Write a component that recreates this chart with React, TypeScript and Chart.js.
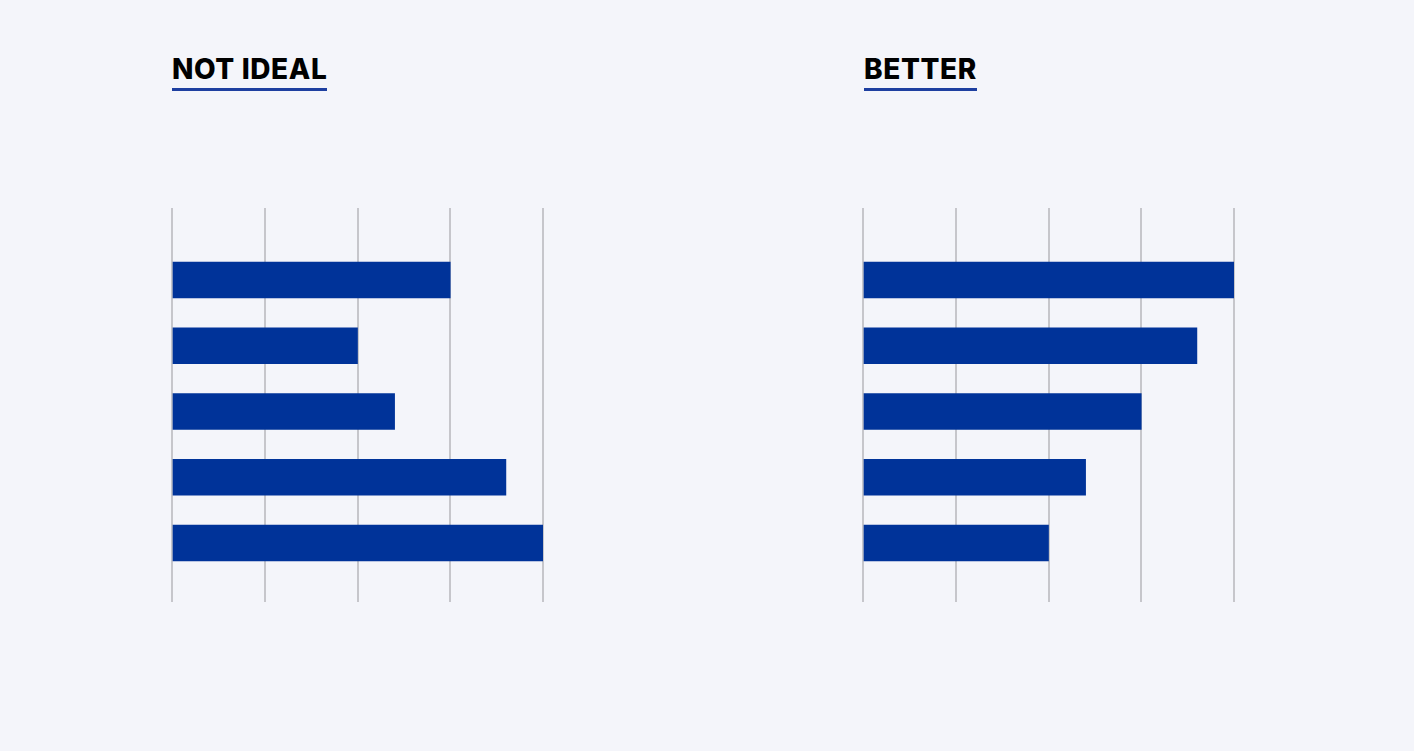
import React, { useEffect, useRef } from "react";
import { Chart, registerables } from "chart.js";

Chart.register(...registerables);

const categories = ["1", "2", "3", "4", "5"];
const notIdealValues = [3.0, 2.0, 2.4, 3.6, 4.0];
const betterValues = [4.0, 3.6, 3.0, 2.4, 2.0];
const xTicks = [0, 1, 2, 3, 4];
const titles = ["NOT IDEAL", "BETTER"];

const BG = "#f4f5fa";
const BAR = "#003399";
const GRID = "#c6c6cb";

function BarPanel({ values, left }: { values: number[]; left: number }) {
  const ref = useRef<HTMLCanvasElement | null>(null);
  useEffect(() => {
    if (!ref.current) return;
    const chart = new Chart(ref.current, {
      type: "bar",
      data: {
        datasets: [
          {
            data: values.map((v, i) => ({ x: v, y: i + 1 })),
            backgroundColor: BAR,
            barThickness: 36,
            borderWidth: 0,
          },
        ],
      },
      options: {
        indexAxis: "y",
        animation: false,
        responsive: false,
        maintainAspectRatio: false,
        layout: { padding: 10 },
        plugins: { legend: { display: false }, tooltip: { enabled: false } },
        scales: {
          x: {
            type: "linear",
            min: xTicks[0],
            max: xTicks[xTicks.length - 1],
            ticks: { display: false, stepSize: 1 },
            grid: { color: GRID, lineWidth: 2, drawTicks: false },
            border: { display: false },
          },
          y: {
            type: "linear",
            reverse: true,
            offset: false,
            min: -0.095,
            max: categories.length + 0.897,
            display: false,
          },
        },
      },
    });
    return () => chart.destroy();
  }, [values]);
  return (
    <canvas
      ref={ref}
      width={391}
      height={414}
      style={{ position: "absolute", left: left - 10, top: 198, width: 391, height: 414 }}
    />
  );
}

function Title({ text, left }: { text: string; left: number }) {
  return (
    <div
      style={{
        position: "absolute",
        left,
        top: 53,
        fontFamily: "Inter, 'Open Sans', sans-serif",
        fontWeight: 800,
        fontSize: 28,
        lineHeight: "32px",
        color: "#000",
        paddingBottom: 3,
        borderBottom: "3px solid #1e3fa0",
        letterSpacing: 0.6,
      }}
    >
      {text}
    </div>
  );
}

export default function App() {
  return (
    <div
      style={{
        position: "fixed",
        left: 0,
        top: 0,
        width: 1414,
        height: 751,
        background: BG,
        overflow: "hidden",
      }}
    >
      <Title text={titles[0]} left={172} />
      <Title text={titles[1]} left={864} />
      <BarPanel values={notIdealValues} left={172} />
      <BarPanel values={betterValues} left={863} />
    </div>
  );
}
